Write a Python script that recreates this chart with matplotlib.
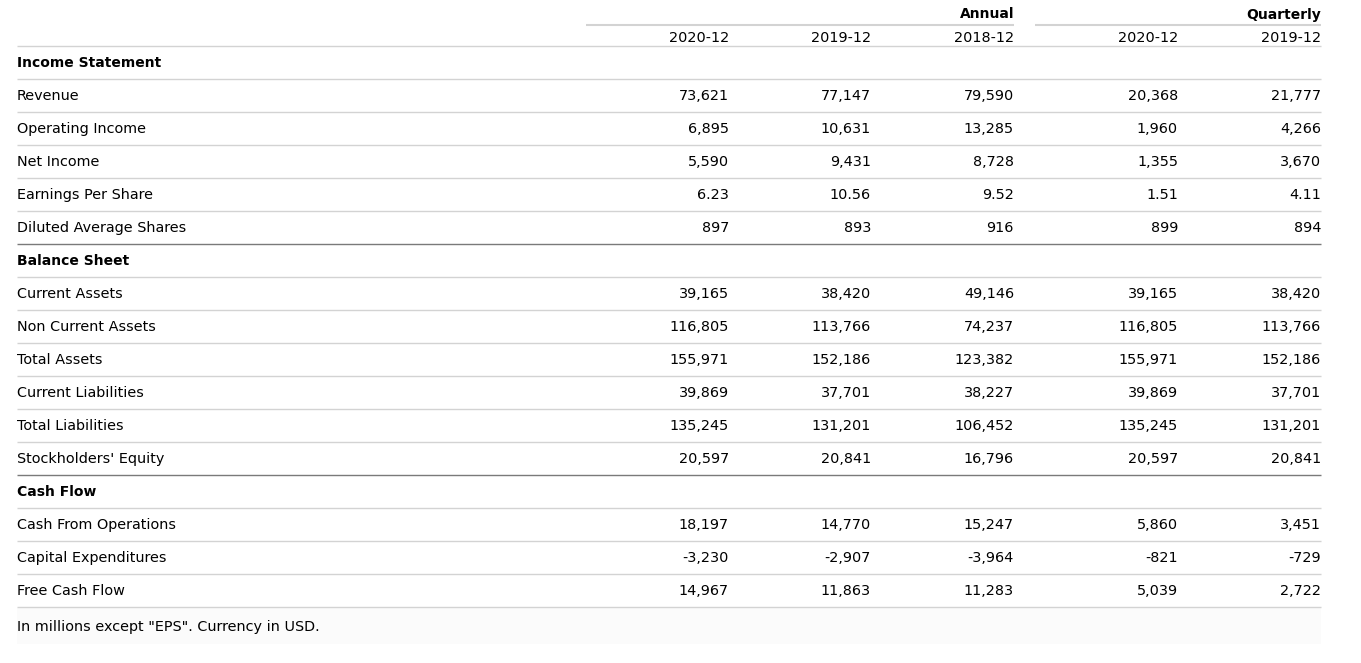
import matplotlib
matplotlib.use("Agg")
from matplotlib import pyplot as plt

plt.rcParams["font.family"] = ["DejaVu Sans"]

periods = ["2020-12", "2019-12", "2018-12", "2020-12", "2019-12"]
groups = ["Annual", "Quarterly"]

income_labels = ["Revenue", "Operating Income", "Net Income", "Earnings Per Share", "Diluted Average Shares"]
income_values = [
    ["73,621", "77,147", "79,590", "20,368", "21,777"],
    ["6,895", "10,631", "13,285", "1,960", "4,266"],
    ["5,590", "9,431", "8,728", "1,355", "3,670"],
    ["6.23", "10.56", "9.52", "1.51", "4.11"],
    ["897", "893", "916", "899", "894"],
]

balance_labels = ["Current Assets", "Non Current Assets", "Total Assets", "Current Liabilities",
                  "Total Liabilities", "Stockholders' Equity"]
balance_values = [
    ["39,165", "38,420", "49,146", "39,165", "38,420"],
    ["116,805", "113,766", "74,237", "116,805", "113,766"],
    ["155,971", "152,186", "123,382", "155,971", "152,186"],
    ["39,869", "37,701", "38,227", "39,869", "37,701"],
    ["135,245", "131,201", "106,452", "135,245", "131,201"],
    ["20,597", "20,841", "16,796", "20,597", "20,841"],
]

cash_labels = ["Cash From Operations", "Capital Expenditures", "Free Cash Flow"]
cash_values = [
    ["18,197", "14,770", "15,247", "5,860", "3,451"],
    ["-3,230", "-2,907", "-3,964", "-821", "-729"],
    ["14,967", "11,863", "11,283", "5,039", "2,722"],
]

footnote = 'In millions except "EPS". Currency in USD.'

sections = [
    ("Income Statement", income_labels, income_values),
    ("Balance Sheet", balance_labels, balance_values),
    ("Cash Flow", cash_labels, cash_values),
]

# layout in pixels
W, H = 1361, 663
left, right = 17, 1321
col_right = [729, 871, 1014, 1178, 1321]
group_span = [(586, 1014), (1035, 1321)]
top = 46
row_h = 33
fs = 10.4
fs_b = 10.0
light = "#d3d3d3"
dark = "#7a7a7a"
txt = "#000000"
va = "center_baseline"
dy = -1  # nudge text up a pixel

fig = plt.figure(figsize=(W / 100, H / 100), dpi=100)
ax = fig.add_axes([0, 0, 1, 1])
ax.set_xlim(0, W)
ax.set_ylim(H, 0)
ax.axis("off")

# group headers
for (x0, x1), g in zip(group_span, groups):
    ax.plot([x0, x1], [25, 25], color=light, lw=1.5, solid_capstyle="butt")
    ax.text(x1, 14 + dy, g, ha="right", va=va, fontsize=fs_b, fontweight="bold", color=txt)
for x, p in zip(col_right, periods):
    ax.text(x, 37 + dy, p, ha="right", va=va, fontsize=fs, color=txt)
ax.plot([left, right], [top, top], color=light, lw=1, solid_capstyle="butt")

y = top
for si, (name, labels, values) in enumerate(sections):
    ax.text(left, y + row_h / 2 + dy, name, ha="left", va=va, fontsize=fs_b, fontweight="bold", color=txt)
    y += row_h
    ax.plot([left, right], [y, y], color=light, lw=1, solid_capstyle="butt")
    for lab, vals in zip(labels, values):
        ax.text(left, y + row_h / 2 + dy, lab, ha="left", va=va, fontsize=fs, color=txt)
        for x, v in zip(col_right, vals):
            ax.text(x, y + row_h / 2 + dy, v, ha="right", va=va, fontsize=fs, color=txt)
        y += row_h
        last = (lab == labels[-1]) and si < len(sections) - 1
        ax.plot([left, right], [y, y], color=dark if last else light, lw=1, solid_capstyle="butt")

ax.add_patch(plt.Rectangle((left, y + 0.5), right - left, 36, color="#fbfbfb", lw=0, zorder=0))
ax.text(left, y + 20 + dy, footnote, ha="left", va=va, fontsize=fs, color=txt)

fig.savefig("out.png", dpi=100)
